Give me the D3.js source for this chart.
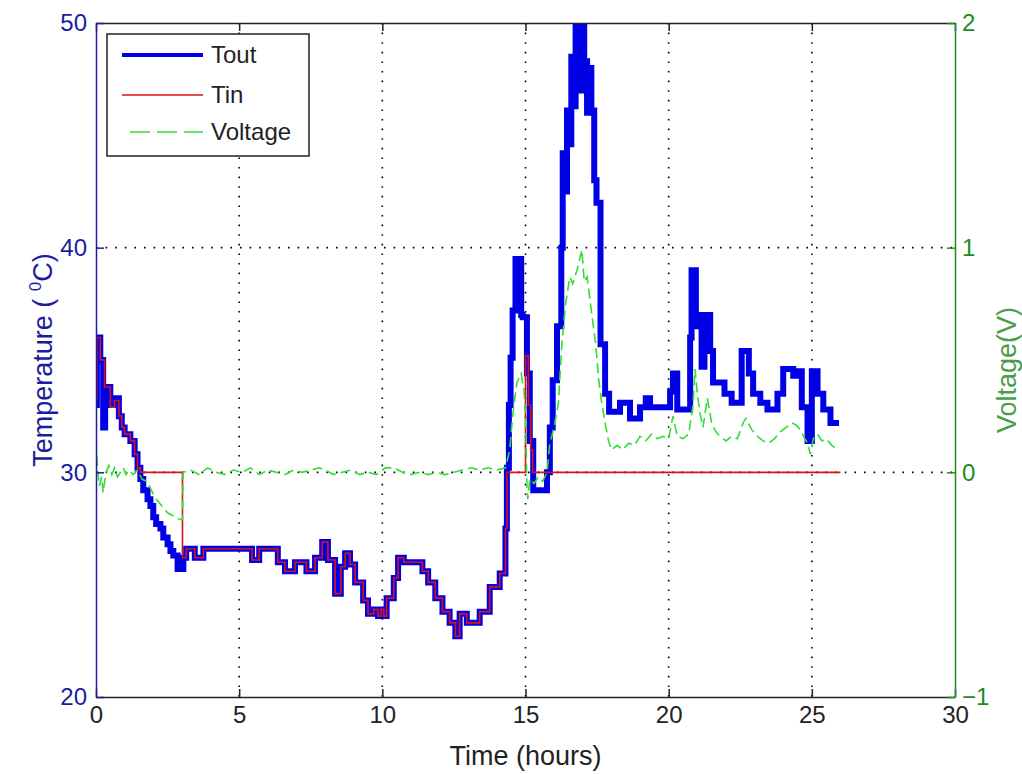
<!DOCTYPE html>
<html>
<head>
<meta charset="utf-8">
<script src="https://cdn.jsdelivr.net/npm/d3@7"></script>
<style>
  body { margin: 0; background: #fff; }
  svg { display: block; font-family: "Liberation Sans", Arial, sans-serif; }
</style>
</head>
<body>
<div id="chart"></div>
<script>
// data: [time (h), value]
var toutData = [
  [0.00, 33.0], [0.03, 36.0], [0.15, 35.0], [0.25, 32.0], [0.32, 33.8], [0.50, 33.0],
  [0.65, 33.3], [0.80, 32.5], [0.90, 32.0], [1.00, 31.7], [1.20, 31.4], [1.35, 30.8],
  [1.45, 30.2], [1.55, 29.7], [1.65, 29.2], [1.80, 28.8], [1.90, 28.5], [2.00, 28.0],
  [2.10, 27.7], [2.25, 27.5], [2.35, 27.1], [2.50, 26.8], [2.60, 26.5], [2.70, 26.3],
  [2.85, 25.7], [3.05, 26.2], [3.15, 26.6], [3.45, 26.2], [3.75, 26.6], [5.45, 26.1],
  [5.70, 26.6], [6.35, 26.0], [6.60, 25.6], [6.95, 26.0], [7.35, 25.6], [7.65, 26.2],
  [7.90, 26.9], [8.10, 26.1], [8.35, 24.6], [8.55, 25.8], [8.70, 26.4], [8.87, 25.9],
  [9.05, 25.1], [9.33, 24.3], [9.50, 23.7], [9.70, 23.9], [9.85, 23.6], [9.95, 23.9],
  [10.05, 23.6], [10.15, 24.4], [10.40, 25.3], [10.55, 26.2], [10.75, 26.0], [11.40, 25.6],
  [11.60, 25.1], [11.85, 24.4], [12.10, 23.8], [12.35, 23.3], [12.55, 22.7], [12.70, 23.7],
  [12.95, 23.3], [13.40, 23.8], [13.75, 24.9], [14.10, 25.5], [14.30, 27.5], [14.35, 30.2],
  [14.42, 33.0], [14.48, 35.1], [14.55, 37.2], [14.65, 39.5], [14.70, 37.4], [14.75, 39.5],
  [14.85, 37.0], [14.90, 36.9], [15.05, 34.4], [15.15, 31.4], [15.27, 29.2], [15.75, 30.0],
  [15.85, 32.0], [15.95, 34.1], [16.10, 36.5], [16.25, 40.0], [16.30, 44.2], [16.40, 42.5],
  [16.45, 46.1], [16.55, 44.6], [16.60, 48.5], [16.70, 46.3], [16.75, 50.5], [16.95, 47.0],
  [17.00, 50.5], [17.05, 48.3], [17.15, 46.0], [17.20, 48.0], [17.30, 46.1], [17.40, 43.0],
  [17.48, 42.0], [17.62, 35.7], [17.78, 33.5], [17.92, 32.7], [18.30, 33.1], [18.65, 32.4],
  [19.00, 32.9], [19.20, 33.3], [19.35, 32.9], [20.05, 33.6], [20.15, 34.4], [20.30, 32.8],
  [20.75, 36.0], [20.80, 39.0], [20.95, 36.5], [21.00, 37.0], [21.15, 34.7], [21.25, 37.0],
  [21.45, 35.4], [21.55, 34.0], [21.95, 33.5], [22.20, 33.1], [22.55, 35.4], [22.80, 34.4],
  [22.95, 33.5], [23.20, 33.1], [23.45, 32.8], [23.80, 33.5], [24.00, 34.6], [24.35, 34.3],
  [24.50, 34.5], [24.65, 32.9], [24.85, 31.4], [25.00, 34.5], [25.20, 33.5], [25.40, 32.8],
  [25.65, 32.2], [25.95, 32.2]
];

var tinData = [
  [0.00, 33.2], [0.03, 36.0], [0.15, 35.0], [0.30, 33.8], [0.50, 32.9], [0.65, 33.2],
  [0.80, 32.5], [0.90, 32.0], [1.00, 31.7], [1.20, 31.4], [1.35, 30.8], [1.45, 30.2],
  [1.55, 30.0], [3.02, 26.2], [3.15, 26.6], [3.45, 26.2], [3.75, 26.6], [5.45, 26.1],
  [5.70, 26.6], [6.35, 26.0], [6.60, 25.6], [6.95, 26.0], [7.35, 25.6], [7.65, 26.2],
  [7.90, 26.9], [8.10, 26.1], [8.35, 24.6], [8.55, 25.8], [8.70, 26.4], [8.87, 25.9],
  [9.05, 25.1], [9.33, 24.3], [9.50, 23.7], [9.70, 23.9], [9.85, 23.6], [9.95, 23.9],
  [10.05, 23.6], [10.15, 24.4], [10.40, 25.3], [10.55, 26.2], [10.75, 26.0], [11.40, 25.6],
  [11.60, 25.1], [11.85, 24.4], [12.10, 23.8], [12.35, 23.3], [12.55, 22.7], [12.70, 23.7],
  [12.95, 23.3], [13.40, 23.8], [13.75, 24.9], [14.10, 25.5], [14.30, 27.5], [14.35, 30.0],
  [15.00, 35.2], [15.10, 33.0], [15.18, 31.0], [15.25, 30.0], [26.00, 30.0]
];

var voltageData = [
  [0.00, 0.14], [0.05, 0.02], [0.12, -0.06], [0.20, -0.02], [0.25, -0.09], [0.35, 0.00],
  [0.45, 0.03], [0.55, -0.01], [0.65, 0.02], [0.75, -0.02], [0.85, 0.00], [0.95, 0.02],
  [1.05, -0.01], [1.15, 0.01], [1.30, -0.01], [1.45, 0.01], [1.60, -0.03], [1.78, -0.04],
  [2.05, -0.11], [2.30, -0.15], [2.50, -0.18], [2.93, -0.21], [3.02, -0.21], [3.04, 0.00],
  [3.30, 0.01], [3.60, -0.01], [3.90, 0.02], [4.20, 0.00], [4.50, -0.01], [4.80, 0.01],
  [5.10, 0.00], [5.40, 0.02], [5.70, -0.01], [6.00, 0.01], [6.30, 0.00], [6.60, -0.01],
  [6.90, 0.01], [7.20, 0.00], [7.50, 0.01], [7.80, 0.02], [8.00, 0.01], [8.30, -0.01],
  [8.60, 0.00], [8.90, 0.01], [9.20, -0.01], [9.50, 0.00], [9.80, -0.01], [10.10, 0.02],
  [10.40, 0.02], [10.70, 0.00], [11.00, -0.01], [11.30, 0.00], [11.60, -0.01], [11.90, 0.00],
  [12.20, -0.01], [12.50, 0.00], [12.80, 0.01], [13.10, 0.02], [13.40, 0.01], [13.70, 0.02],
  [14.00, 0.01], [14.30, 0.02], [14.45, 0.10], [14.55, 0.25], [14.70, 0.40], [14.85, 0.44],
  [14.95, 0.36], [15.00, 0.26], [15.05, -0.07], [15.08, -0.12], [15.15, -0.03], [15.30, -0.05],
  [15.45, -0.02], [15.60, -0.04], [15.75, 0.00], [15.85, 0.13], [16.00, 0.20], [16.15, 0.31],
  [16.27, 0.57], [16.40, 0.75], [16.55, 0.87], [16.65, 0.84], [16.80, 0.90], [16.97, 0.99],
  [17.05, 0.85], [17.15, 0.87], [17.30, 0.72], [17.45, 0.57], [17.55, 0.42], [17.65, 0.32],
  [17.78, 0.22], [17.90, 0.14], [18.00, 0.10], [18.20, 0.12], [18.40, 0.10], [18.60, 0.13],
  [18.80, 0.12], [19.00, 0.16], [19.20, 0.14], [19.40, 0.17], [19.60, 0.15], [19.80, 0.16],
  [20.00, 0.15], [20.15, 0.25], [20.30, 0.16], [20.50, 0.15], [20.70, 0.17], [20.85, 0.30],
  [20.92, 0.46], [21.00, 0.35], [21.10, 0.26], [21.20, 0.20], [21.35, 0.33], [21.50, 0.22],
  [21.65, 0.18], [21.80, 0.16], [22.00, 0.14], [22.20, 0.16], [22.40, 0.15], [22.60, 0.22],
  [22.70, 0.24], [22.90, 0.19], [23.10, 0.16], [23.30, 0.14], [23.50, 0.13], [23.70, 0.15],
  [23.90, 0.18], [24.10, 0.20], [24.30, 0.22], [24.45, 0.21], [24.60, 0.19], [24.75, 0.15],
  [24.85, 0.13], [24.95, 0.08], [25.05, 0.15], [25.20, 0.17], [25.35, 0.14], [25.50, 0.15],
  [25.70, 0.12], [25.90, 0.10]
];

var timeTicks = [0, 5, 10, 15, 20, 25, 30];
var tempTicks = [20, 30, 40, 50];
var voltTicks = [-1, 0, 1, 2];
var legendLabels = ["Tout", "Tin", "Voltage"];

// sizes
var svgWidth = 1022;
var svgHeight = 774;
var margin = { top: 23, right: 67, bottom: 77, left: 96 };
var width = svgWidth - margin.left - margin.right;
var height = svgHeight - margin.top - margin.bottom;

var blue = "#0000e6";
var red = "#dd1111";
var green = "#33dd33";
var leftColor = "#1c1ca0";
var rightColor = "#1f8a1f";

var svg = d3.select("#chart")
  .append("svg")
  .attr("width", svgWidth)
  .attr("height", svgHeight);

var chartGroup = svg.append("g")
  .attr("transform", `translate(${margin.left}, ${margin.top})`);

// scales
var xScale = d3.scaleLinear().domain([0, 30]).range([0, width]);
var yTemp = d3.scaleLinear().domain([20, 50]).range([height, 0]);
var yVolt = d3.scaleLinear().domain([-1, 2]).range([height, 0]);

// grid (dotted)
chartGroup.append("g")
  .selectAll("line")
  .data(timeTicks.filter(d => d > 0 && d < 30))
  .enter()
  .append("line")
  .attr("x1", d => xScale(d))
  .attr("x2", d => xScale(d))
  .attr("y1", 0)
  .attr("y2", height)
  .attr("stroke", "#000")
  .attr("stroke-width", 1.6)
  .attr("stroke-dasharray", "1.6,8");

chartGroup.append("g")
  .selectAll("line")
  .data(tempTicks.filter(d => d > 20 && d < 50))
  .enter()
  .append("line")
  .attr("x1", 0)
  .attr("x2", width)
  .attr("y1", d => yTemp(d))
  .attr("y2", d => yTemp(d))
  .attr("stroke", "#000")
  .attr("stroke-width", 1.6)
  .attr("stroke-dasharray", "1.6,8");

// clip so the 17h peak is cut at the top
svg.append("defs").append("clipPath")
  .attr("id", "plotClip")
  .append("rect")
  .attr("x", 0)
  .attr("y", 0)
  .attr("width", width)
  .attr("height", height);

var plotArea = chartGroup.append("g").attr("clip-path", "url(#plotClip)");

var tempLine = d3.line()
  .x(d => xScale(d[0]))
  .y(d => yTemp(d[1]))
  .curve(d3.curveStepAfter);

var voltLine = d3.line()
  .x(d => xScale(d[0]))
  .y(d => yVolt(d[1]));

plotArea.append("path")
  .datum(toutData)
  .attr("d", tempLine)
  .attr("fill", "none")
  .attr("stroke", blue)
  .attr("stroke-width", 6);

plotArea.append("path")
  .datum(tinData)
  .attr("d", tempLine)
  .attr("fill", "none")
  .attr("stroke", red)
  .attr("stroke-width", 1.6);

plotArea.append("path")
  .datum(voltageData)
  .attr("d", voltLine)
  .attr("fill", "none")
  .attr("stroke", green)
  .attr("stroke-width", 1.6)
  .attr("stroke-dasharray", "10,5");

// axes
var bottomAxis = d3.axisBottom(xScale).tickValues(timeTicks).tickSize(-8).tickSizeOuter(0).tickPadding(9);
var topAxis = d3.axisTop(xScale).tickValues(timeTicks).tickSize(-8).tickSizeOuter(0).tickFormat("");
var leftAxis = d3.axisLeft(yTemp).tickValues(tempTicks).tickSize(-8).tickSizeOuter(0).tickPadding(9);
var rightAxis = d3.axisRight(yVolt).tickValues(voltTicks).tickFormat(d3.format("d"))
  .tickSize(-8).tickSizeOuter(0).tickPadding(7);

function styleAxis(g, color) {
  g.attr("font-size", 24)
    .attr("font-family", '"Liberation Sans", Arial, sans-serif');
  g.select(".domain").attr("stroke", color).attr("stroke-width", 1.5);
  g.selectAll(".tick line").attr("stroke", color).attr("stroke-width", 1.5);
  g.selectAll(".tick text").attr("fill", color);
}

var xAxisG = chartGroup.append("g")
  .attr("transform", `translate(0, ${height})`)
  .call(bottomAxis);
styleAxis(xAxisG, "#222");

var topAxisG = chartGroup.append("g").call(topAxis);
styleAxis(topAxisG, "#222");

var yAxisG = chartGroup.append("g").call(leftAxis);
styleAxis(yAxisG, leftColor);

var y2AxisG = chartGroup.append("g")
  .attr("transform", `translate(${width}, 0)`)
  .call(rightAxis);
styleAxis(y2AxisG, rightColor);

// axis labels
svg.append("text")
  .attr("x", margin.left + width / 2)
  .attr("y", 765)
  .attr("text-anchor", "middle")
  .attr("font-size", 27)
  .attr("fill", "#222")
  .text("Time (hours)");

var yLabel = svg.append("text")
  .attr("transform", `translate(52, ${margin.top + height / 2}) rotate(-90)`)
  .attr("text-anchor", "middle")
  .attr("font-size", 27)
  .attr("fill", leftColor);
yLabel.append("tspan").text("Temperature ( ");
yLabel.append("tspan").attr("font-size", 17).attr("dy", -11).text("0");
yLabel.append("tspan").attr("dy", 11).text("C)");

svg.append("text")
  .attr("transform", `translate(1016, ${margin.top + height / 2 + 10}) rotate(-90)`)
  .attr("text-anchor", "middle")
  .attr("font-size", 27)
  .attr("fill", "#4a9e4a")
  .text("Voltage(V)");

// legend
var legend = svg.append("g");
legend.append("rect")
  .attr("x", 107)
  .attr("y", 34)
  .attr("width", 202)
  .attr("height", 122)
  .attr("fill", "#fff")
  .attr("stroke", "#222")
  .attr("stroke-width", 1.5);

var legendStyles = [
  { color: blue, width: 4, dash: null, x1: 122 },
  { color: red, width: 1.6, dash: null, x1: 122 },
  { color: green, width: 1.6, dash: "20,7", x1: 130 }
];
var legendY = [55, 95, 132];

legendLabels.forEach(function(label, i) {
  var s = legendStyles[i];
  legend.append("line")
    .attr("x1", s.x1)
    .attr("x2", 203)
    .attr("y1", legendY[i])
    .attr("y2", legendY[i])
    .attr("stroke", s.color)
    .attr("stroke-width", s.width)
    .attr("stroke-dasharray", s.dash);
  legend.append("text")
    .attr("x", 211)
    .attr("y", legendY[i])
    .attr("dy", "0.35em")
    .attr("font-size", 24)
    .attr("fill", "#222")
    .text(label);
});
</script>
</body>
</html>
